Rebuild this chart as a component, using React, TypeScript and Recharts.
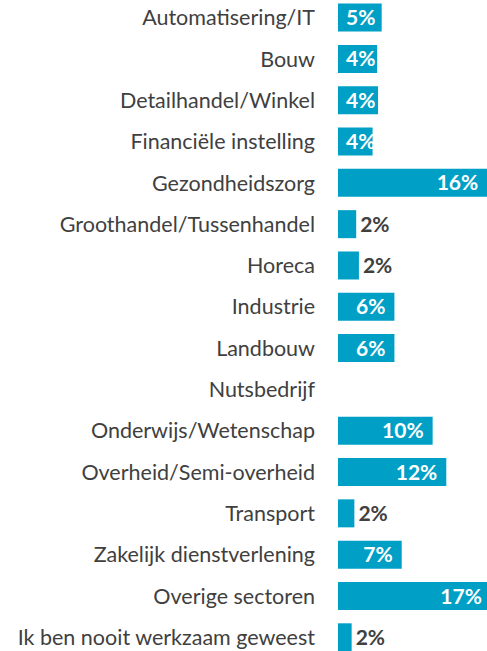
import { BarChart, Bar, XAxis, YAxis, LabelList } from 'recharts';

const sectors = [
  'Automatisering/IT',
  'Bouw',
  'Detailhandel/Winkel',
  'Financiële instelling',
  'Gezondheidszorg',
  'Groothandel/Tussenhandel',
  'Horeca',
  'Industrie',
  'Landbouw',
  'Nutsbedrijf',
  'Onderwijs/Wetenschap',
  'Overheid/Semi-overheid',
  'Transport',
  'Zakelijk dienstverlening',
  'Overige sectoren',
  'Ik ben nooit werkzaam geweest',
];

const shares = [4.8, 4.3, 4.4, 3.8, 16.4, 2.0, 2.3, 6.2, 6.2, 0, 10.4, 11.9, 1.8, 7.0, 16.8, 1.5];

const data = sectors.map((name, i) => ({ name, pct: shares[i] }));

const BLUE = '#009fc6';
const TEXT = '#404040';
const FONT = 'Lato, "Noto Sans", sans-serif';

function ValueLabel(props: any) {
  const { x, y, width, height, value } = props;
  if (!value) return null;
  const r = Math.round(value);
  const txt = r + '%';
  const cy = y + height / 2;
  if (r <= 2) {
    return (
      <text x={x + width + 4} y={cy} dy="0.36em" fill={TEXT} fontFamily={FONT} fontWeight={700} fontSize={21}>
        {txt}
      </text>
    );
  }
  const tw = txt.length * 14;
  const endX = x + width - 9;
  const fitsEnd = endX - tw >= x + 8;
  return (
    <text
      x={fitsEnd ? endX : x + 8}
      y={cy}
      dy="0.36em"
      textAnchor={fitsEnd ? 'end' : 'start'}
      fill="#ffffff"
      fontFamily={FONT}
      fontWeight={700}
      fontSize={21}
    >
      {txt}
    </text>
  );
}

export default function App() {
  return (
    <div style={{ position: 'absolute', left: 0, top: 0, width: 487, height: 651, overflow: 'hidden', background: '#fff' }}>
      <div style={{ position: 'absolute', left: 0, top: -3 }}>
        <BarChart
          width={520}
          height={661}
          data={data}
          layout="vertical"
          margin={{ top: 0, right: 0, bottom: 0, left: 0 }}
          barCategoryGap="16%"
        >
          <XAxis type="number" domain={[0, 20]} hide />
          <YAxis
            type="category"
            dataKey="name"
            width={338}
            axisLine={false}
            tickLine={false}
            tickSize={0}
            tickMargin={23}
            interval={0}
            tick={{ fill: TEXT, fontSize: 21.5, fontFamily: FONT }}
          />
          <Bar dataKey="pct" fill={BLUE} isAnimationActive={false}>
            <LabelList dataKey="pct" content={ValueLabel} />
          </Bar>
        </BarChart>
      </div>
    </div>
  );
}
